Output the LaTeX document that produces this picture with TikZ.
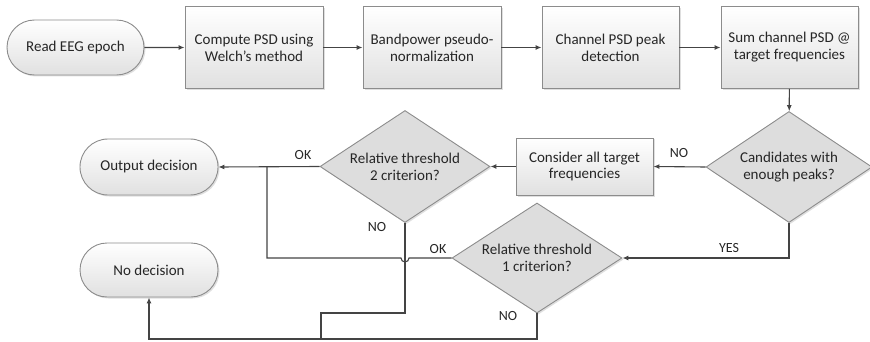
\documentclass[tikz,border=0pt]{standalone}
\usepackage{fontspec}
\setmainfont{Carlito}
\usetikzlibrary{shapes.geometric,shapes.misc,arrows.meta,shadows}
\definecolor{txt}{HTML}{262626}
\definecolor{edge}{HTML}{8C8C8C}
\definecolor{ln}{HTML}{444444}
\definecolor{dfill}{HTML}{DDDDDD}
\tikzset{
  base/.style={draw=edge, line width=0.9pt, text=txt, font=\fontsize{15}{17}\selectfont, align=center, inner sep=0pt,
    drop shadow={shadow xshift=1.5pt, shadow yshift=-1.5pt, fill=black!25, opacity=0.5}},
  procbox/.style={base, rectangle, top color=white, bottom color=black!12},
  pill/.style={base, rounded rectangle, top color=white, bottom color=black!12},
  decide/.style={base, diamond, shape aspect=1.5, fill=dfill},
  conn/.style={draw=ln, line width=1.1pt, -{Latex[length=6pt,width=5pt]}},
  plain/.style={draw=ln, line width=1.1pt},
  lab/.style={text=txt, font=\fontsize{14}{16}\selectfont, inner sep=0pt}
}
\begin{document}
\begin{tikzpicture}[x=1pt,y=-1pt]
\useasboundingbox (0,0) rectangle (870,342);
\node[pill, minimum width=137pt, minimum height=55pt] (read) at (75.5,47.5) {Read EEG epoch};
\node[procbox, minimum width=138pt, minimum height=82pt] (b1) at (254,47.5) {Compute PSD using\\Welch’s method};
\node[procbox, minimum width=138pt, minimum height=82pt] (b2) at (432,47.5) {Bandpower pseudo-\\normalization};
\node[procbox, minimum width=137pt, minimum height=82pt] (b3) at (610.5,47.5) {Channel PSD peak\\detection};
\node[procbox, minimum width=137pt, minimum height=82pt] (b4) at (789.5,47.5) {Sum channel PSD @\\target frequencies};
\node[decide, minimum width=166pt, minimum height=111pt] (cand) at (789,167) {Candidates with\\enough peaks?};
\node[procbox, minimum width=137pt, minimum height=57pt] (cons) at (584.5,166.5) {Consider all target\\frequencies};
\node[decide, minimum width=170pt, minimum height=112pt] (rt2) at (405,166.5) {Relative threshold\\2 criterion?};
\node[pill, minimum width=138pt, minimum height=56pt] (out) at (149,167) {Output decision};
\node[pill, minimum width=138pt, minimum height=54pt] (nod) at (149,270) {No decision};
\node[decide, minimum width=170pt, minimum height=110pt] (rt1) at (537,258) {Relative threshold\\1 criterion?};

\coordinate (j1) at (267,167);
\coordinate (j2) at (321,339);

\draw[conn] (read) -- (b1);
\draw[conn] (b1) -- (b2);
\draw[conn] (b2) -- (b3);
\draw[conn] (b3) -- (b4);
\draw[conn] (b4) -- (cand);
\draw[conn] (cand.west) -- (cons.east);
\draw[conn] (cons.west) -- (rt2.east);
\draw[conn] (rt2.west) -- (out.east);
\draw[conn] (cand.south) |- (rt1.east);
\draw[plain] (rt1.west) -- (409,258) arc (0:180:4) -- (j1 |- rt1.west) -- (j1);
\draw[plain] (rt2.south) |- (j2 |- 0,313) -- (j2);
\draw[conn] (rt1.south) |- (j2) -| (nod.south);

\node[lab] (l1) at (679,153) {NO};
\node[lab] (l2) at (303,155) {OK};
\node[lab] (l3) at (377,227) {NO};
\node[lab] (l4) at (438,249) {OK};
\node[lab] (l5) at (729,248) {YES};
\node[lab] (l6) at (508,316) {NO};
\end{tikzpicture}
\end{document}
